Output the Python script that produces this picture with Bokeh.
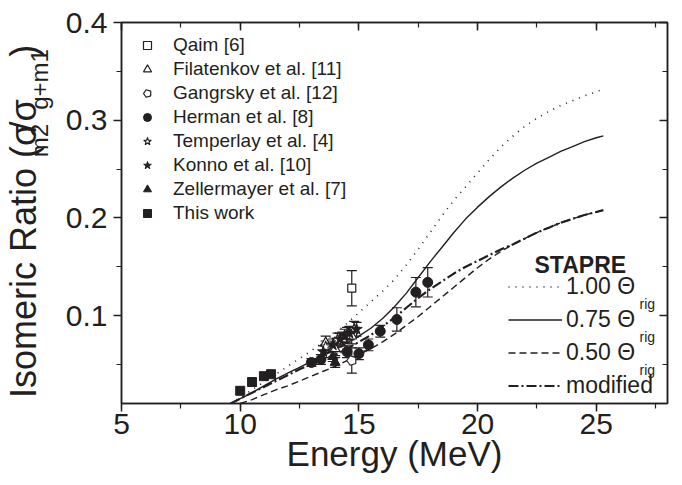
import math
from bokeh.plotting import figure
from bokeh.layouts import row
from bokeh.models import (ColumnDataSource, Whisker, TeeHead, Legend, LegendItem, Label,
                          LinearAxis, SingleIntervalTicker, PrintfTickFormatter, Range1d,
                          CustomJSTickFormatter)
from bokeh.embed import file_html
from bokeh.resources import INLINE

# ---------------- data ----------------
this_E = [10.0, 10.5, 11.0, 11.3]
this_R = [0.023, 0.032, 0.038, 0.040]

qaim_E = [14.7]
qaim_R = [0.128]
qaim_err = [0.018]

fil_E = [13.6, 14.0, 14.3, 14.7]
fil_R = [0.072, 0.066, 0.076, 0.079]
fil_err = [0.007, 0.007, 0.007, 0.008]

gang_E = [14.7]
gang_R = [0.054]
gang_err = [0.013]

herman_E = [13.0, 13.4, 14.5, 15.0, 15.4, 15.9, 16.6, 17.4, 17.9]
herman_R = [0.052, 0.055, 0.063, 0.061, 0.070, 0.084, 0.096, 0.124, 0.134]
herman_err = [0.004, 0.005, 0.006, 0.006, 0.006, 0.006, 0.012, 0.015, 0.015]

temp_E = [13.6, 14.1, 14.5, 14.8]
temp_R = [0.068, 0.075, 0.080, 0.086]
temp_err = [0.006, 0.007, 0.008, 0.008]

konno_E = [13.5, 13.9, 14.2, 14.4, 14.6, 14.9]
konno_R = [0.063, 0.070, 0.076, 0.079, 0.082, 0.086]
konno_err = [0.006, 0.006, 0.006, 0.007, 0.007, 0.007]

zell_E = [13.9, 14.0]
zell_R = [0.058, 0.052]
zell_err = [0.005, 0.005]

curve_E = [9.6, 10.0, 10.5, 11.0, 11.5, 12.0, 12.5, 13.0, 13.5, 14.0, 14.5, 15.0, 15.5,
           16.0, 16.5, 17.0, 17.5, 18.0, 18.5, 19.0, 19.5, 20.0, 20.5, 21.0, 21.5, 22.0,
           22.5, 23.0, 23.5, 24.0, 24.5, 25.0, 25.3]
rig100_R = [0.010, 0.016, 0.024, 0.032, 0.040, 0.048, 0.056, 0.064, 0.073, 0.082, 0.092,
            0.103, 0.114, 0.125, 0.137, 0.152, 0.168, 0.185, 0.202, 0.218, 0.232, 0.246,
            0.260, 0.273, 0.284, 0.294, 0.302, 0.309, 0.315, 0.320, 0.325, 0.329, 0.332]
rig075_R = [0.010, 0.015, 0.021, 0.028, 0.035, 0.041, 0.047, 0.053, 0.059, 0.065, 0.072,
            0.079, 0.087, 0.097, 0.109, 0.123, 0.139, 0.155, 0.170, 0.185, 0.199, 0.211,
            0.222, 0.232, 0.241, 0.249, 0.256, 0.262, 0.268, 0.273, 0.278, 0.282, 0.284]
rig050_E = [10.0, 10.5, 11.0, 11.5, 12.0, 12.5, 13.0, 13.5, 14.0, 14.5, 15.0, 15.5, 16.0,
            16.5, 17.0, 17.5, 18.0, 18.5, 19.0, 19.5, 20.0, 20.5, 21.0, 21.5, 22.0, 22.5,
            23.0, 23.5, 24.0, 24.5, 25.0, 25.3]
rig050_R = [0.010, 0.014, 0.019, 0.024, 0.028, 0.033, 0.038, 0.043, 0.048, 0.054, 0.060,
            0.066, 0.073, 0.081, 0.090, 0.099, 0.109, 0.119, 0.129, 0.139, 0.149, 0.158,
            0.166, 0.173, 0.179, 0.185, 0.190, 0.195, 0.199, 0.203, 0.206, 0.208]
mod_R = [0.010, 0.015, 0.021, 0.027, 0.033, 0.039, 0.045, 0.050, 0.055, 0.060, 0.066,
         0.073, 0.080, 0.089, 0.098, 0.108, 0.118, 0.127, 0.135, 0.143, 0.150, 0.156,
         0.162, 0.168, 0.173, 0.179, 0.185, 0.190, 0.195, 0.199, 0.203, 0.206, 0.208]

x_title = "Energy (MeV)"
y_title_parts = ["Isomeric Ratio (σ", "m2", "/σ", "g+m1", ")"]
y_title_is_sub = [False, True, False, True, False]

# ---------------- layout ----------------
W, H = 682, 485
SIDE_W = 58
FL, FR, FT, FB = 121, 667, 22, 403     # frame edges in page pixels
XR = (5, 28)
YR = (0.01, 0.4)
INK = "#231f20"
FONT = "Liberation Sans"


def px2x(px):
    return XR[0] + (px - FL) * (XR[1] - XR[0]) / (FR - FL)


def py2y(py):
    return YR[1] - (py - FT) * (YR[1] - YR[0]) / (FB - FT)


p = figure(width=W - SIDE_W, height=H, output_backend="svg", toolbar_location=None,
           x_range=Range1d(*XR), y_range=Range1d(*YR),
           min_border_left=FL - SIDE_W, min_border_right=W - FR,
           min_border_top=FT, min_border_bottom=H - FB,
           x_axis_location=None, y_axis_location=None)
p.background_fill_color = "white"
p.border_fill_color = "white"
p.outline_line_color = INK
p.outline_line_width = 1.5
p.xgrid.visible = False
p.ygrid.visible = False

xt = SingleIntervalTicker(interval=5, num_minor_ticks=2)
yt = SingleIntervalTicker(interval=0.1, num_minor_ticks=2)
blank = CustomJSTickFormatter(code="return ''")


def style_axis(ax, outward, labels):
    ax.axis_line_color = INK
    ax.axis_line_width = 1.5
    ax.major_tick_line_color = INK
    ax.minor_tick_line_color = INK
    ax.major_tick_line_width = 1.5
    ax.minor_tick_line_width = 1.2
    if outward:
        ax.major_tick_out, ax.major_tick_in = 8, 0
        ax.minor_tick_out, ax.minor_tick_in = 5, 0
    else:
        ax.major_tick_out, ax.major_tick_in = 0, 8
        ax.minor_tick_out, ax.minor_tick_in = 0, 5
    if labels:
        ax.major_label_text_font = FONT
        ax.major_label_text_font_size = "30px"
        ax.major_label_text_color = INK
    else:
        ax.major_label_standoff = 0


bx = LinearAxis(ticker=xt, formatter=PrintfTickFormatter(format="%d"))
style_axis(bx, True, True)
bx.major_label_standoff = 2
bx.axis_label = x_title
bx.axis_label_text_font = FONT
bx.axis_label_text_font_size = "35px"
bx.axis_label_text_font_style = "normal"
bx.axis_label_text_color = INK
bx.axis_label_standoff = -3
p.add_layout(bx, "below")

ly = LinearAxis(ticker=yt, formatter=PrintfTickFormatter(format="%.1f"))
style_axis(ly, True, True)
ly.major_label_standoff = 6
p.add_layout(ly, "left")

tx = LinearAxis(ticker=xt, formatter=blank)
style_axis(tx, False, False)
p.add_layout(tx, "above")

ry = LinearAxis(ticker=yt, formatter=blank)
style_axis(ry, False, False)
p.add_layout(ry, "right")

# ---------------- curves ----------------
r100 = p.line(curve_E, rig100_R, line_color=INK, line_width=1.6, line_dash="1 6")
r075 = p.line(curve_E, rig075_R, line_color=INK, line_width=1.4)
r050 = p.line(rig050_E, rig050_R, line_color=INK, line_width=1.4, line_dash="7 4")
rmod = p.line(curve_E, mod_R, line_color=INK, line_width=2.2, line_dash="10 3 2 3")


# ---------------- data points ----------------
def errbars(E, R, err):
    src = ColumnDataSource(dict(x=E, lo=[r - e for r, e in zip(R, err)],
                                hi=[r + e for r, e in zip(R, err)]))
    w = Whisker(source=src, base="x", lower="lo", upper="hi", dimension="height",
                line_color=INK, line_width=1.2,
                upper_head=TeeHead(size=10, line_color=INK, line_width=1.2),
                lower_head=TeeHead(size=10, line_color=INK, line_width=1.2))
    p.add_layout(w)


for E, R, e in [(qaim_E, qaim_R, qaim_err), (fil_E, fil_R, fil_err),
                (gang_E, gang_R, gang_err), (herman_E, herman_R, herman_err),
                (temp_E, temp_R, temp_err), (konno_E, konno_R, konno_err),
                (zell_E, zell_R, zell_err)]:
    errbars(E, R, e)

s_qaim = p.scatter(qaim_E, qaim_R, marker="square", size=8, fill_color="white",
                   line_color=INK, line_width=1.2)
s_fil = p.scatter(fil_E, fil_R, marker="triangle", size=10, fill_color="white",
                  line_color=INK, line_width=1.2)
s_gang = p.ngon(gang_E, gang_R, radius=5, radius_units="screen", n=5, angle=math.pi / 2,
                fill_color="white", line_color=INK, line_width=1.2)
s_herman = p.scatter(herman_E, herman_R, marker="circle", size=10, fill_color=INK,
                     line_color=INK)
s_temp = p.scatter(temp_E, temp_R, marker="star", size=12, fill_color="white",
                   line_color=INK, line_width=1.1)
s_konno = p.scatter(konno_E, konno_R, marker="star", size=12, fill_color=INK,
                    line_color=INK)
s_zell = p.scatter(zell_E, zell_R, marker="triangle", size=10, fill_color=INK,
                   line_color=INK)
s_this = p.scatter(this_E, this_R, marker="square", size=9, fill_color=INK,
                   line_color=INK)

# ---------------- legends ----------------
leg1 = Legend(items=[
    LegendItem(label="Qaim [6]", renderers=[s_qaim]),
    LegendItem(label="Filatenkov et al. [11]", renderers=[s_fil]),
    LegendItem(label="Gangrsky et al. [12]", renderers=[s_gang]),
    LegendItem(label="Herman et al. [8]", renderers=[s_herman]),
    LegendItem(label="Temperlay et al. [4]", renderers=[s_temp]),
    LegendItem(label="Konno et al. [10]", renderers=[s_konno]),
    LegendItem(label="Zellermayer et al. [7]", renderers=[s_zell]),
    LegendItem(label="This work", renderers=[s_this]),
], location=(16, 179), padding=10, spacing=2, label_height=22, glyph_height=22,
    glyph_width=20, label_standoff=16, border_line_color=None,
    background_fill_alpha=0, label_text_font=FONT, label_text_font_size="19px",
    label_text_color=INK, margin=0)
p.add_layout(leg1)

leg2 = Legend(items=[
    LegendItem(label="1.00 Θ", renderers=[r100]),
    LegendItem(label="0.75 Θ", renderers=[r075]),
    LegendItem(label="0.50 Θ", renderers=[r050]),
    LegendItem(label="modified", renderers=[rmod]),
], location=(387, 4), padding=10, spacing=6, label_height=27, glyph_height=27,
    glyph_width=54, label_standoff=4, border_line_color=None,
    background_fill_alpha=0, label_text_font=FONT, label_text_font_size="23px",
    label_text_color=INK, margin=0)
p.add_layout(leg2)

p.add_layout(Label(x=px2x(534), y=py2y(264), text="STAPRE", text_font=FONT,
                   text_font_size="23px", text_font_style="bold", text_color=INK,
                   text_baseline="alphabetic"))
for cy in [286.7, 319.7, 352.7]:
    p.add_layout(Label(x=px2x(639), y=py2y(cy + 17), text="rig", text_font=FONT,
                       text_font_size="14px", text_color=INK, text_baseline="alphabetic"))

# ---------------- y title (side strip) ----------------
side = figure(width=SIDE_W, height=H, output_backend="svg", toolbar_location=None,
              x_range=Range1d(0, SIDE_W), y_range=Range1d(0, H),
              min_border=0, x_axis_location=None, y_axis_location=None)
side.outline_line_color = None
side.xgrid.visible = False
side.ygrid.visible = False
side.background_fill_color = "white"
side.border_fill_color = "white"

EMW = {'I': 0.278, 's': 0.5, 'o': 0.556, 'm': 0.833, 'e': 0.556, 'r': 0.333, 'i': 0.222,
       'c': 0.5, ' ': 0.278, 'R': 0.722, 'a': 0.556, 't': 0.278, '(': 0.333, ')': 0.333,
       'σ': 0.58, '2': 0.556, '/': 0.278, 'g': 0.556, '+': 0.584, '1': 0.556}
BIG, SMALL = 36, 24
BASE_X, SUB_BASE_X, CENTER_Y = 36, 47, 235      # baselines (page px) of the rotated text
sizes = [SMALL if s else BIG for s in y_title_is_sub]
widths = [sum(EMW[c] for c in t) * s for t, s in zip(y_title_parts, sizes)]
start = CENTER_Y + sum(widths) / 2               # page y of the bottom end of the title
for t, s, sub, w in zip(y_title_parts, sizes, y_title_is_sub, widths):
    mid_page_y = start - w / 2
    base = SUB_BASE_X if sub else BASE_X
    mid_page_x = base - 0.35 * s
    side.add_layout(Label(x=mid_page_x, y=H - mid_page_y, text=t, angle=90,
                          angle_units="deg", text_font=FONT, text_font_size=f"{s}px",
                          text_color=INK, text_align="center", text_baseline="middle"))
    start -= w

layout = row(side, p, spacing=0)
open("out.html", "w").write(file_html(layout, INLINE))
